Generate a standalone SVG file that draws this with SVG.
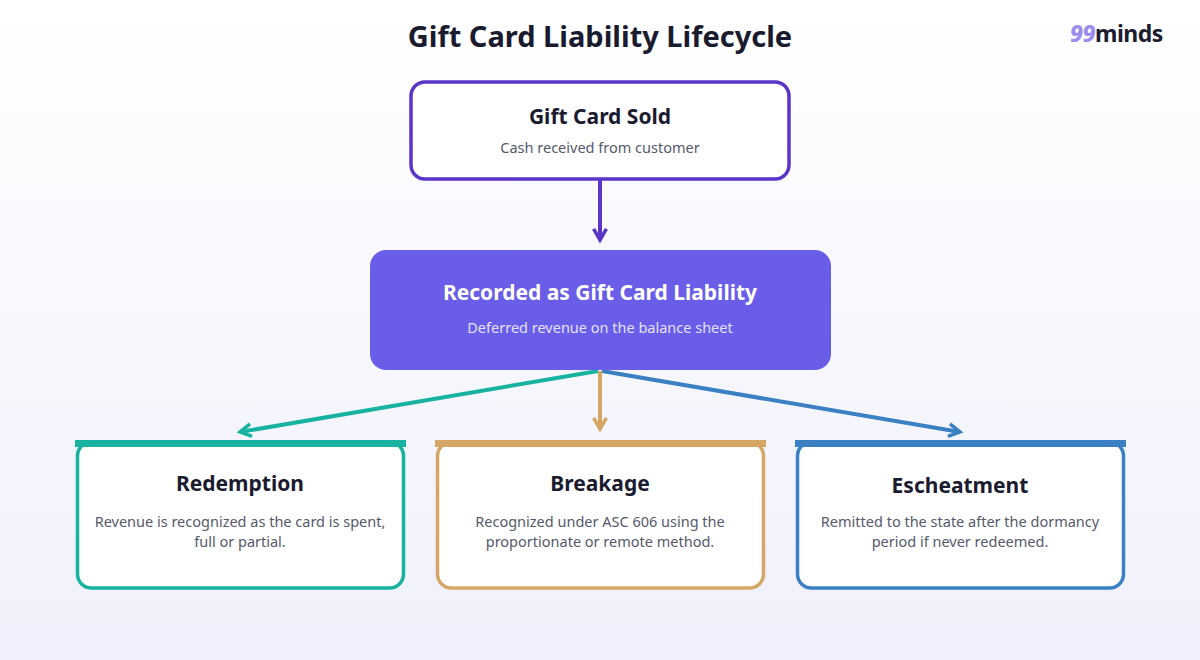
<svg xmlns="http://www.w3.org/2000/svg" width="1200" height="660" viewBox="0 0 1200 660">
<defs>
<linearGradient id="bg" x1="0" y1="0" x2="0" y2="1"><stop offset="0" stop-color="#ffffff"/><stop offset="1" stop-color="#eff0fb"/></linearGradient>
<marker id="mP" viewBox="0 0 10 10" refX="8" refY="5" markerWidth="4" markerHeight="4" orient="auto"><path d="M1,1 L8,5 L1,9" fill="none" stroke="#5b35c8" stroke-width="2.2"/></marker>
<marker id="mT" viewBox="0 0 10 10" refX="8" refY="5" markerWidth="4" markerHeight="4" orient="auto"><path d="M1,1 L8,5 L1,9" fill="none" stroke="#17b3a0" stroke-width="2.2"/></marker>
<marker id="mG" viewBox="0 0 10 10" refX="8" refY="5" markerWidth="4" markerHeight="4" orient="auto"><path d="M1,1 L8,5 L1,9" fill="none" stroke="#d4a766" stroke-width="2.2"/></marker>
<marker id="mB" viewBox="0 0 10 10" refX="8" refY="5" markerWidth="4" markerHeight="4" orient="auto"><path d="M1,1 L8,5 L1,9" fill="none" stroke="#3a80c2" stroke-width="2.2"/></marker>
</defs>
<style>
text{font-family:"Noto Sans","Open Sans",sans-serif;text-anchor:middle}
.t{font-weight:700;fill:#1b1b2f;font-size:21px}
.s{fill:#555a6b;font-size:14.5px}
.card{fill:#fff;stroke-width:3.5}
</style>
<rect width="1200" height="660" fill="url(#bg)"/>
<text x="600" y="47" class="t" style="font-size:29px">Gift Card Liability Lifecycle</text>
<g id="logo"><text x="1070" y="42" style="font-size:23px;font-weight:700;fill:#1b1b2f;text-anchor:start;letter-spacing:-0.5px"><tspan style="font-style:italic;font-weight:800;fill:#9b8cf0">99</tspan>minds</text></g>
<g id="connectors" stroke-width="4" fill="none">
<line x1="600" y1="180" x2="600" y2="240" stroke="#5b35c8" marker-end="url(#mP)"/>
<line x1="598" y1="371" x2="240" y2="432" stroke="#17b3a0" marker-end="url(#mT)"/>
<line x1="600" y1="371" x2="600" y2="429" stroke="#d4a766" marker-end="url(#mG)"/>
<line x1="602" y1="371" x2="960" y2="432" stroke="#3a80c2" marker-end="url(#mB)"/>
</g>
<g id="sold"><rect x="411" y="82" width="378" height="97" rx="14" class="card" stroke="#5b35c8" stroke-width="3"/>
<text x="600" y="124" class="t">Gift Card Sold</text><text x="600" y="153" class="s">Cash received from customer</text></g>
<g id="liability"><rect x="370" y="250" width="461" height="120" rx="16" fill="#6a5de8"/>
<text x="600" y="300" class="t" style="fill:#fff">Recorded as Gift Card Liability</text><text x="600" y="333" class="s" style="fill:#e4e1ff">Deferred revenue on the balance sheet</text></g>
<g id="redemption"><rect x="77.5" y="442" width="326" height="146" rx="14" class="card" stroke="#17b3a0"/><rect x="75" y="440" width="331" height="7" fill="#17b3a0"/>
<text x="240" y="491" class="t">Redemption</text><text x="240" y="527" class="s">Revenue is recognized as the card is spent,</text><text x="240" y="547" class="s">full or partial.</text></g>
<g id="breakage"><rect x="437.5" y="442" width="326" height="146" rx="14" class="card" stroke="#d4a766"/><rect x="435" y="440" width="331" height="7" fill="#d4a766"/>
<text x="600" y="491" class="t">Breakage</text><text x="600" y="527" class="s">Recognized under ASC 606 using the</text><text x="600" y="547" class="s">proportionate or remote method.</text></g>
<g id="escheatment"><rect x="797.5" y="442" width="326" height="146" rx="14" class="card" stroke="#3a80c2"/><rect x="795" y="440" width="331" height="7" fill="#3a80c2"/>
<text x="960" y="493" class="t">Escheatment</text><text x="960" y="527" class="s">Remitted to the state after the dormancy</text><text x="960" y="547" class="s">period if never redeemed.</text></g>
</svg>
